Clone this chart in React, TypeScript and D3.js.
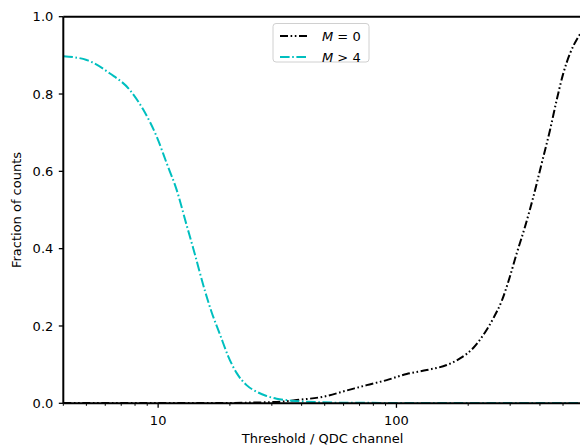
import React, { useEffect, useRef } from "react";
import * as d3 from "d3";

const m0Thresholds = [4, 6, 10, 15, 20, 25, 30, 34, 38.1, 49.3, 61.8, 75, 91, 110.4, 134, 162.5, 184.8, 210, 231.6, 255, 276.6, 294.9, 319.7, 346.4, 375.3, 407, 441, 470.5, 501.6, 535, 579.7, 600];
const m0Values = [0.001, 0.001, 0.001, 0.001, 0.001, 0.002, 0.003, 0.005, 0.0085, 0.017, 0.033, 0.047, 0.06, 0.076, 0.086, 0.099, 0.116, 0.143, 0.177, 0.22, 0.265, 0.315, 0.388, 0.457, 0.534, 0.621, 0.707, 0.785, 0.854, 0.905, 0.948, 0.962];

const m4Thresholds = [4, 5.01, 6.28, 7.62, 8.67, 9.86, 10.86, 11.96, 13.18, 14.05, 15.73, 16.78, 18.18, 19.7, 21.37, 23.5, 25.9, 28.5, 31.4, 35, 40, 46, 60, 100, 200, 600];
const m4Values = [0.898, 0.888, 0.853, 0.81, 0.759, 0.69, 0.621, 0.552, 0.46, 0.4, 0.29, 0.235, 0.178, 0.121, 0.078, 0.047, 0.03, 0.019, 0.012, 0.008, 0.005, 0.003, 0.0015, 0.001, 0.001, 0.001];

const yTicks = [0.0, 0.2, 0.4, 0.6, 0.8, 1.0];
const xMajorTicks = [10, 100];
const xMinorTicks = [4, 5, 6, 7, 8, 9, 20, 30, 40, 50, 60, 70, 80, 90, 200, 300, 400, 500, 600];

const seriesLabels = ["M = 0", "M > 4"];

const W = 580;
const H = 447;
const left = 63.3;
const right = 581.9;
const top = 16.7;
const bottom = 403.3;
const FONT = "DejaVu Sans, sans-serif";

export default function App() {
  const ref = useRef<SVGSVGElement>(null);
  useEffect(() => {
    const svg = d3.select(ref.current);
    svg.selectAll("*").remove();
    const x = d3.scaleLog().domain([4, 600]).range([left, right]);
    const y = d3.scaleLinear().domain([0, 1]).range([bottom, top]);

    svg.append("defs").append("clipPath").attr("id", "clip")
      .append("rect").attr("x", left).attr("y", top).attr("width", right - left).attr("height", bottom - top);

    const line = d3.line<[number, number]>().x(d => x(d[0])).y(d => y(d[1])).curve(d3.curveMonotoneX);
    const g = svg.append("g").attr("clip-path", "url(#clip)");
    const m4Data = m4Thresholds.map((t, i) => [t, m4Values[i]] as [number, number]);
    const m0Data = m0Thresholds.map((t, i) => [t, m0Values[i]] as [number, number]);
    const m0Dash = "8,2.6,1.6,2.6,1.6,2.6";
    const m4Dash = "9.6,2.6,1.6,2.6";
    g.append("path").attr("d", line(m0Data)!).attr("fill", "none").attr("stroke", "#000").attr("stroke-width", 2).attr("stroke-dasharray", m0Dash);
    g.append("path").attr("d", line(m4Data)!).attr("fill", "none").attr("stroke", "#00bfbf").attr("stroke-width", 2).attr("stroke-dasharray", m4Dash);

    // spines
    svg.append("line").attr("x1", left).attr("x2", right).attr("y1", top).attr("y2", top).attr("stroke", "#000").attr("stroke-width", 2);
    svg.append("line").attr("x1", left).attr("x2", right).attr("y1", bottom).attr("y2", bottom).attr("stroke", "#000").attr("stroke-width", 2);
    svg.append("line").attr("x1", left).attr("x2", left).attr("y1", top).attr("y2", bottom).attr("stroke", "#000").attr("stroke-width", 2);
    svg.append("line").attr("x1", right).attr("x2", right).attr("y1", top).attr("y2", bottom).attr("stroke", "#000").attr("stroke-width", 2);

    // y ticks
    yTicks.forEach(t => {
      svg.append("line").attr("x1", left - 4.5).attr("x2", left).attr("y1", y(t)).attr("y2", y(t)).attr("stroke", "#000").attr("stroke-width", 1.3);
      svg.append("text").attr("x", left - 10).attr("y", y(t)).attr("dy", "0.36em").attr("text-anchor", "end")
        .attr("font-family", FONT).attr("font-size", 13).attr("fill", "#000").text(t.toFixed(1));
    });
    // x ticks
    xMajorTicks.forEach(t => {
      svg.append("line").attr("x1", x(t)).attr("x2", x(t)).attr("y1", bottom).attr("y2", bottom + 4.5).attr("stroke", "#000").attr("stroke-width", 1.3);
      svg.append("text").attr("x", x(t)).attr("y", 425).attr("text-anchor", "middle")
        .attr("font-family", FONT).attr("font-size", 13).attr("fill", "#000").text(String(t));
    });
    xMinorTicks.forEach(t => {
      svg.append("line").attr("x1", x(t)).attr("x2", x(t)).attr("y1", bottom).attr("y2", bottom + 2.5).attr("stroke", "#000").attr("stroke-width", 1);
    });

    svg.append("text").attr("x", (left + right) / 2).attr("y", 443).attr("text-anchor", "middle")
      .attr("font-family", FONT).attr("font-size", 13).attr("fill", "#000").text("Threshold / QDC channel");
    svg.append("text").attr("transform", `translate(21,${(top + bottom) / 2}) rotate(-90)`).attr("text-anchor", "middle")
      .attr("font-family", FONT).attr("font-size", 13).attr("fill", "#000").text("Fraction of counts");

    // legend
    const lg = svg.append("g");
    lg.append("rect").attr("x", 273).attr("y", 23.5).attr("width", 96).attr("height", 38.5).attr("rx", 3)
      .attr("fill", "#fff").attr("fill-opacity", 0.8).attr("stroke", "#d0d0d0").attr("stroke-width", 1);
    const entries = [{ dash: m0Dash, color: "#000" }, { dash: m4Dash, color: "#00bfbf" }];
    entries.forEach((e, i) => {
      const yy = 36 + i * 21;
      lg.append("line").attr("x1", 280).attr("x2", 307).attr("y1", yy).attr("y2", yy)
        .attr("stroke", e.color).attr("stroke-width", 2).attr("stroke-dasharray", e.dash);
      const parts = seriesLabels[i].split(" ");
      const txt = lg.append("text").attr("x", 322).attr("y", yy).attr("dy", "0.36em")
        .attr("font-family", FONT).attr("font-size", 13).attr("fill", "#000");
      txt.append("tspan").attr("font-style", "italic").text(parts[0]);
      txt.append("tspan").text(" " + parts[1] + " " + parts[2]);
    });
  }, []);
  return (
    <svg ref={ref} width={W} height={H} style={{ position: "fixed", left: 0, top: 0, background: "#fff" }} />
  );
}
